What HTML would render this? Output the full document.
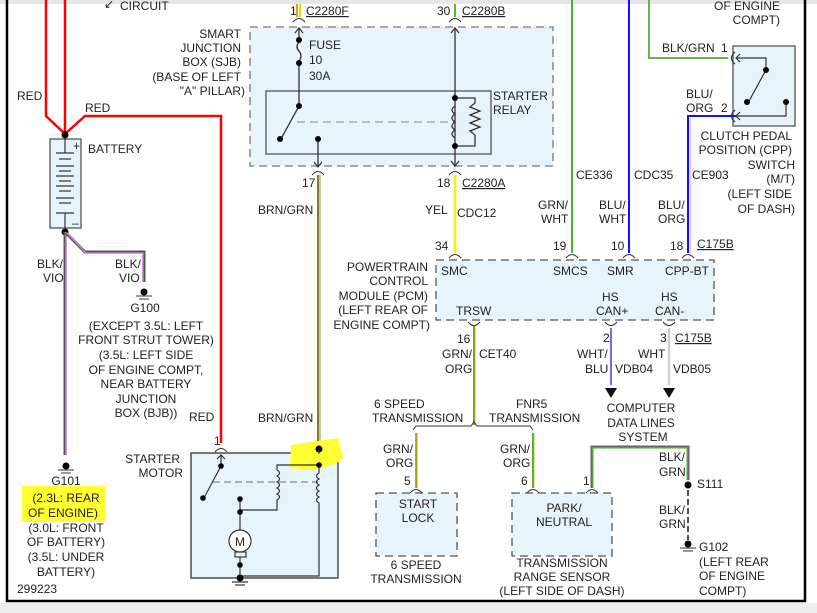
<!DOCTYPE html>
<html><head><meta charset="utf-8"><style>
html,body{margin:0;padding:0;background:#fff;}
svg{display:block;}
text{font-family:"Liberation Sans",Arial,sans-serif;font-size:12px;fill:#222;}
</style></head><body>
<svg width="817" height="613" viewBox="0 0 817 613" xmlns="http://www.w3.org/2000/svg">
<rect x="0" y="0" width="817" height="4" fill="#e6e6e6"/>
<rect x="0" y="603" width="817" height="10" fill="#eeeeee"/>
<line x1="7" y1="0" x2="7" y2="602" stroke="#000" stroke-width="2.5"/>
<line x1="805" y1="0" x2="805" y2="602" stroke="#000" stroke-width="2.5"/>
<line x1="6" y1="601" x2="806" y2="601" stroke="#000" stroke-width="2.5"/>

<!-- boxes -->
<rect x="250" y="27" width="303" height="139" fill="#e8f4fb" stroke="#777" stroke-dasharray="8,5" stroke-width="1.3"/>
<rect x="266" y="91" width="225" height="63" fill="#e8f4fb" stroke="#555" stroke-width="1.3"/>
<line x1="297" y1="122" x2="454" y2="122" stroke="#888" stroke-dasharray="8,5"/>
<rect x="436" y="260" width="278" height="60" fill="#e8f4fb" stroke="#555" stroke-dasharray="8,5" stroke-width="1.3"/>
<rect x="733" y="46" width="62" height="80" fill="#e8f4fb" stroke="#555" stroke-width="1.3"/>
<rect x="376" y="493" width="81" height="63" fill="#e8f4fb" stroke="#555" stroke-dasharray="8,5" stroke-width="1.3"/>
<rect x="512" y="493" width="100" height="63" fill="#e8f4fb" stroke="#555" stroke-dasharray="8,5" stroke-width="1.3"/>
<rect x="191" y="453" width="147" height="125" fill="#e8f4fb" stroke="#333" stroke-width="1.3"/>
<rect x="50" y="139" width="31" height="89" fill="#e8f4fb" stroke="#555" stroke-width="1.3"/>

<!-- red wires -->
<g fill="none" stroke="#f00" stroke-width="2.5">
<polyline points="46,0 46,116 65,134"/>
<line x1="65" y1="0" x2="65" y2="134"/>
<polyline points="65,134 85,116 221,116 221,443"/>
</g>
<circle cx="65" cy="135" r="3.5" fill="#000"/>
<!-- battery plates -->
<g stroke="#333" stroke-width="1.2">
<line x1="65" y1="139" x2="65" y2="153"/>
<line x1="56" y1="153" x2="74" y2="153"/><line x1="59" y1="159" x2="71" y2="159"/>
<line x1="56" y1="166" x2="74" y2="166"/><line x1="59" y1="171" x2="71" y2="171"/>
<line x1="56" y1="176" x2="74" y2="176"/><line x1="59" y1="181" x2="71" y2="181"/>
<line x1="56" y1="186" x2="74" y2="186"/><line x1="59" y1="191" x2="71" y2="191"/>
<line x1="56" y1="198" x2="74" y2="198"/><line x1="59" y1="203" x2="71" y2="203"/>
<line x1="56" y1="213" x2="74" y2="213"/><line x1="65" y1="213" x2="65" y2="228"/>
</g>
<text x="73" y="150" font-size="10">+</text><text x="72" y="227" font-size="10">–</text>
<text x="88" y="153">BATTERY</text>
<circle cx="65" cy="232" r="3.5" fill="#000"/>
<!-- BLK/VIO -->
<g fill="none" stroke-width="3">
<line x1="65" y1="232" x2="65" y2="455" stroke="#555"/>
<line x1="66" y1="232" x2="66" y2="455" stroke="#d070e0" stroke-width="1.5"/>
<polyline points="66,233 85,252 144,252 144,282" stroke="#555"/>
<polyline points="67,233 86,253 143,253 143,282" stroke="#d070e0" stroke-width="1.5"/>
</g>
<circle cx="144" cy="292" r="3.5" fill="#000"/>
<line x1="136" y1="296" x2="152" y2="296" stroke="#333"/><line x1="139" y1="299" x2="149" y2="299" stroke="#333"/>
<circle cx="66" cy="466" r="3.5" fill="#000"/>
<line x1="58" y1="470" x2="74" y2="470" stroke="#333"/><line x1="61" y1="473" x2="71" y2="473" stroke="#333"/>

<text x="17" y="100">RED</text><text x="85" y="112">RED</text>
<text x="37" y="268">BLK/</text><text x="43" y="282">VIO</text>
<text x="115" y="268">BLK/</text><text x="119" y="282">VIO</text>
<g text-anchor="middle">
<text x="145" y="312">G100</text>
<text x="146" y="330">(EXCEPT 3.5L: LEFT</text>
<text x="146" y="344">FRONT STRUT TOWER)</text>
<text x="146" y="359">(3.5L: LEFT SIDE</text>
<text x="146" y="374">OF ENGINE COMPT,</text>
<text x="146" y="388">NEAR BATTERY</text>
<text x="146" y="403">JUNCTION</text>
<text x="146" y="417">BOX (BJB))</text>
<rect x="22" y="486" width="84" height="36" fill="#ffff33"/>
<text x="66" y="485">G101</text>
<text x="66" y="502">(2.3L: REAR</text>
<text x="63" y="517">OF ENGINE)</text>
<text x="66" y="532">(3.0L: FRONT</text>
<text x="66" y="546">OF BATTERY)</text>
<text x="66" y="561">(3.5L: UNDER</text>
<text x="66" y="576">BATTERY)</text>
</g>
<text x="17" y="593">299223</text>
<text x="120" y="10">CIRCUIT</text>
<text x="104" y="8" font-size="10">↙</text>

<!-- SJB labels -->
<g text-anchor="end">
<text x="241" y="38">SMART</text><text x="241" y="52">JUNCTION</text>
<text x="241" y="66">BOX (SJB)</text><text x="241" y="81">(BASE OF LEFT</text>
<text x="245" y="95">"A" PILLAR)</text>
</g>
<text x="309" y="49">FUSE</text><text x="309" y="64">10</text><text x="309" y="80">30A</text>
<text x="493" y="100">STARTER</text><text x="493" y="114">RELAY</text>
<!-- fuse line -->
<line x1="297" y1="4" x2="297" y2="17" stroke="#f0a000" stroke-width="2"/>
<line x1="300" y1="4" x2="300" y2="17" stroke="#e0e000" stroke-width="2"/>
<path d="M293,22 Q299,15 305,22" fill="none" stroke="#333"/>
<text x="290" y="15">1</text><text x="306" y="15" text-decoration="underline">C2280F</text>
<g stroke="#333" fill="none" stroke-width="1.3">
<polyline points="295,33 299,28 303,33"/>
<line x1="299" y1="28" x2="299" y2="40"/>
<path d="M299,42 q-4,5 0,9 q4,5 0,10"/>
<line x1="299" y1="64" x2="299" y2="106"/>
<line x1="299" y1="106" x2="282" y2="137"/>
<line x1="318" y1="139" x2="318" y2="167"/>
<polyline points="314,162 318,167 322,162"/>
</g>
<circle cx="299" cy="40" r="3" fill="#000"/><circle cx="299" cy="63" r="3" fill="#000"/>
<circle cx="299" cy="106" r="3" fill="#000"/><circle cx="280" cy="139" r="3" fill="#000"/>
<circle cx="318" cy="139" r="3" fill="#000"/>
<path d="M312,175 Q318,168 324,175" fill="none" stroke="#333"/>
<text x="302" y="187">17</text>
<!-- brn/grn wire -->
<line x1="318" y1="175" x2="318" y2="448" stroke="#8a7a20" stroke-width="2"/>
<line x1="320" y1="175" x2="320" y2="448" stroke="#60b030" stroke-width="1"/>
<text x="258" y="214">BRN/GRN</text>
<!-- relay line -->
<line x1="455" y1="4" x2="455" y2="17" stroke="#50c030" stroke-width="2"/>
<path d="M449,22 Q455,15 461,22" fill="none" stroke="#333"/>
<text x="437" y="15">30</text><text x="462" y="15" text-decoration="underline">C2280B</text>
<g stroke="#333" fill="none" stroke-width="1.3">
<line x1="455" y1="28" x2="455" y2="166"/>
<polyline points="451,33 455,28 459,33"/>
<polyline points="451,161 455,166 459,161"/>
<polyline points="455,98 475,98 475,103 470,107 480,111 470,115 480,119 470,123 480,127 470,131 475,135 475,146 455,146"/>
<path d="M455,106 q-6,4 0,8 q-6,4 0,8 q-6,4 0,8 q-6,4 0,8"/>
</g>
<circle cx="455" cy="98" r="3" fill="#000"/><circle cx="455" cy="146" r="3" fill="#000"/>
<path d="M449,175 Q455,168 461,175" fill="none" stroke="#333"/>
<text x="437" y="187">18</text><text x="462" y="187" text-decoration="underline">C2280A</text>
<line x1="455" y1="175" x2="455" y2="253" stroke="#ffee00" stroke-width="2.5"/>
<text x="425" y="214">YEL</text><text x="457" y="217">CDC12</text>
<!-- top right wires -->
<line x1="572" y1="0" x2="572" y2="253" stroke="#50b030" stroke-width="2"/>
<line x1="629" y1="0" x2="629" y2="253" stroke="#1010ff" stroke-width="2"/>
<polyline points="649,0 649,58 728,58" fill="none" stroke="#66bb44" stroke-width="2"/>
<polyline points="649,0 649,58 728,58" fill="none" stroke="#888" stroke-width="0.5"/>
<polyline points="737,116 688,116 688,253" fill="none" stroke="#1010ff" stroke-width="2"/>
<line x1="690" y1="118" x2="690" y2="253" stroke="#f08060" stroke-width="0.8"/>
<text x="576" y="179">CE336</text><text x="634" y="179">CDC35</text><text x="692" y="179">CE903</text>
<text x="538" y="209">GRN/</text><text x="541" y="223">WHT</text>
<text x="599" y="209">BLU/</text><text x="599" y="223">WHT</text>
<text x="658" y="209">BLU/</text><text x="658" y="223">ORG</text>
<text x="662" y="52">BLK/GRN</text><text x="721" y="52">1</text>
<text x="686" y="98">BLU/</text><text x="686" y="112">ORG</text><text x="721" y="112">2</text>
<!-- CPP switch -->
<g stroke="#333" fill="none" stroke-width="1.2">
<path d="M735,52 Q728,58 735,64"/><path d="M735,110 Q728,116 735,122"/>
<polyline points="740,54 736,58 740,62"/><polyline points="740,112 736,116 740,120"/>
<polyline points="736,58 766,58 766,70"/>
<line x1="766" y1="70" x2="749" y2="101"/>
<polyline points="736,116 786,116 786,103"/>
</g>
<circle cx="766" cy="70" r="3" fill="#000"/><circle cx="747" cy="102" r="3" fill="#000"/><circle cx="786" cy="102" r="3" fill="#000"/>
<g text-anchor="end">
<text x="792" y="140">CLUTCH PEDAL</text><text x="792" y="154">POSITION (CPP)</text>
<text x="795" y="169">SWITCH</text><text x="795" y="183">(M/T)</text>
<text x="792" y="198">(LEFT SIDE</text><text x="795" y="213">OF DASH)</text>
<text x="780" y="10">OF ENGINE</text><text x="780" y="24">COMPT)</text>
</g>
<!-- PCM pins -->
<g fill="none" stroke="#333">
<path d="M449,258 Q455,251 461,258"/><path d="M566,258 Q572,251 578,258"/>
<path d="M623,258 Q629,251 635,258"/><path d="M682,258 Q688,251 694,258"/>
<path d="M468,322 Q474,329 480,322"/><path d="M605,322 Q611,329 617,322"/><path d="M663,322 Q669,329 675,322"/>
</g>
<text x="435" y="250">34</text><text x="553" y="250">19</text><text x="611" y="250">10</text><text x="670" y="250">18</text>
<text x="697" y="248" text-decoration="underline">C175B</text>
<text x="441" y="275">SMC</text><text x="553" y="275">SMCS</text><text x="607" y="275">SMR</text><text x="665" y="275">CPP-BT</text>
<text x="602" y="301">HS</text><text x="661" y="301">HS</text>
<text x="596" y="315">CAN+</text><text x="655" y="315">CAN-</text>
<text x="456" y="315">TRSW</text>
<g text-anchor="end">
<text x="428" y="271">POWERTRAIN</text><text x="428" y="285">CONTROL</text>
<text x="428" y="300">MODULE (PCM)</text><text x="428" y="314">(LEFT REAR OF</text>
<text x="430" y="329">ENGINE COMPT)</text>
</g>
<!-- TRSW -->
<line x1="474" y1="326" x2="474" y2="425" stroke="#50b030" stroke-width="2"/>
<line x1="475" y1="326" x2="475" y2="425" stroke="#e0a000" stroke-width="0.8"/>
<text x="457" y="343">16</text><text x="442" y="358">GRN/</text><text x="445" y="373">ORG</text><text x="479" y="358">CET40</text>
<text x="374" y="408">6 SPEED</text><text x="372" y="422">TRANSMISSION</text>
<text x="516" y="408">FNR5</text><text x="489" y="422">TRANSMISSION</text>
<polyline points="413,430 416,426 471,426 474,422 477,426 530,426 533,430" fill="none" stroke="#333"/>
<line x1="416" y1="433" x2="416" y2="488" stroke="#e0a000" stroke-width="2"/>
<line x1="417" y1="433" x2="417" y2="488" stroke="#50b030" stroke-width="0.8"/>
<line x1="533" y1="433" x2="533" y2="488" stroke="#50b030" stroke-width="2"/>
<line x1="534" y1="433" x2="534" y2="488" stroke="#e0a000" stroke-width="0.8"/>
<text x="383" y="453">GRN/</text><text x="386" y="467">ORG</text>
<text x="500" y="453">GRN/</text><text x="503" y="467">ORG</text>
<text x="404" y="485">5</text><text x="521" y="485">6</text><text x="583" y="485">1</text>
<g fill="none" stroke="#333"><path d="M410,493 Q416,486 422,493"/><path d="M527,493 Q533,486 539,493"/><path d="M586,493 Q592,486 598,493"/></g>
<g text-anchor="middle">
<text x="418" y="508">START</text><text x="418" y="522">LOCK</text>
<text x="564" y="512">PARK/</text><text x="564" y="526">NEUTRAL</text>
<text x="416" y="569">6 SPEED</text><text x="416" y="583">TRANSMISSION</text>
<text x="562" y="567">TRANSMISSION</text><text x="562" y="581">RANGE SENSOR</text>
<text x="562" y="595">(LEFT SIDE OF DASH)</text>
<text x="641" y="412">COMPUTER</text><text x="641" y="427">DATA LINES</text><text x="643" y="441">SYSTEM</text>
</g>
<!-- CAN -->
<line x1="611" y1="328" x2="611" y2="385" stroke="#4040d0" stroke-width="1.5"/>
<line x1="669" y1="328" x2="669" y2="385" stroke="#d0d0d0" stroke-width="2.5"/>
<polygon points="605,388 617,388 611,398" fill="#111"/><polygon points="663,388 675,388 669,398" fill="#111"/>
<text x="603" y="342">2</text><text x="660" y="342">3</text><text x="675" y="342" text-decoration="underline">C175B</text>
<text x="577" y="358">WHT/</text><text x="585" y="373">BLU</text><text x="615" y="373">VDB04</text>
<text x="638" y="358">WHT</text><text x="673" y="373">VDB05</text>
<!-- ground wire -->
<polyline points="592,488 592,447 688,447 688,480" fill="none" stroke="#666" stroke-width="3"/>
<polyline points="593,488 593,448 687,448 687,480" fill="none" stroke="#60c040" stroke-width="1.2"/>
<circle cx="688" cy="485" r="3.5" fill="#000"/>
<line x1="688" y1="490" x2="688" y2="540" stroke="#555" stroke-width="2" stroke-dasharray="6,3"/>
<circle cx="688" cy="544" r="3.5" fill="#000"/>
<line x1="680" y1="548" x2="696" y2="548" stroke="#333"/><line x1="683" y1="551" x2="693" y2="551" stroke="#333"/>
<text x="659" y="461">BLK/</text><text x="659" y="476">GRN</text><text x="697" y="488">S111</text>
<text x="659" y="514">BLK/</text><text x="659" y="528">GRN</text>
<text x="699" y="551">G102</text><text x="699" y="566">(LEFT REAR</text><text x="699" y="580">OF ENGINE</text><text x="699" y="595">COMPT)</text>
<!-- starter motor -->
<text x="189" y="421">RED</text><text x="258" y="422">BRN/GRN</text>
<text x="214" y="445">1</text>
<path d="M215,452 Q221,445 227,452" fill="none" stroke="#333"/>
<g text-anchor="end"><text x="180" y="463">STARTER</text><text x="183" y="477">MOTOR</text></g>
<polygon points="291,445 338,438 343,458 336,464 312,470 290,468" fill="#ffff33"/>
<circle cx="319" cy="449" r="3.5" fill="#000"/>
<line x1="319" y1="449" x2="319" y2="454" stroke="#333"/>
<g stroke="#333" fill="none" stroke-width="1.2">
<line x1="221" y1="455" x2="221" y2="466"/><polyline points="217,459 221,455 225,459"/>
<line x1="221" y1="466" x2="205" y2="496"/>
<line x1="213" y1="482" x2="318" y2="482" stroke="#888" stroke-dasharray="7,4"/>
<polyline points="319,465 277,465 277,470"/>
<path d="M277,470 q5,3 0,6 q5,3 0,6 q5,3 0,6 q5,3 0,6 q5,3 0,6 l0,10 l-37,0"/>
<line x1="319" y1="465" x2="319" y2="473"/>
<path d="M319,473 q-5,3 0,6 q-5,3 0,6 q-5,3 0,6 q-5,3 0,6 q-5,3 0,6 l0,73 l-79,0"/>
<line x1="240" y1="499" x2="240" y2="530"/>
<rect x="235" y="532" width="11" height="6"/>
<circle cx="240" cy="541" r="11" fill="#fff"/>
<rect x="235" y="552" width="11" height="5"/>
<line x1="240" y1="557" x2="240" y2="578"/>
<line x1="232" y1="582" x2="248" y2="582"/><line x1="235" y1="585" x2="245" y2="585"/>
</g>
<circle cx="221" cy="466" r="2.8" fill="#000"/><circle cx="203" cy="498" r="2.8" fill="#000"/>
<circle cx="319" cy="465" r="2.8" fill="#000"/>
<circle cx="240" cy="499" r="2.8" fill="#000"/><circle cx="240" cy="512" r="2.8" fill="#000"/>
<circle cx="240" cy="565" r="2.8" fill="#000"/><circle cx="240" cy="578" r="3.5" fill="#000"/>
<text x="235" y="546" font-size="11">M</text>
</svg>
</body></html>
